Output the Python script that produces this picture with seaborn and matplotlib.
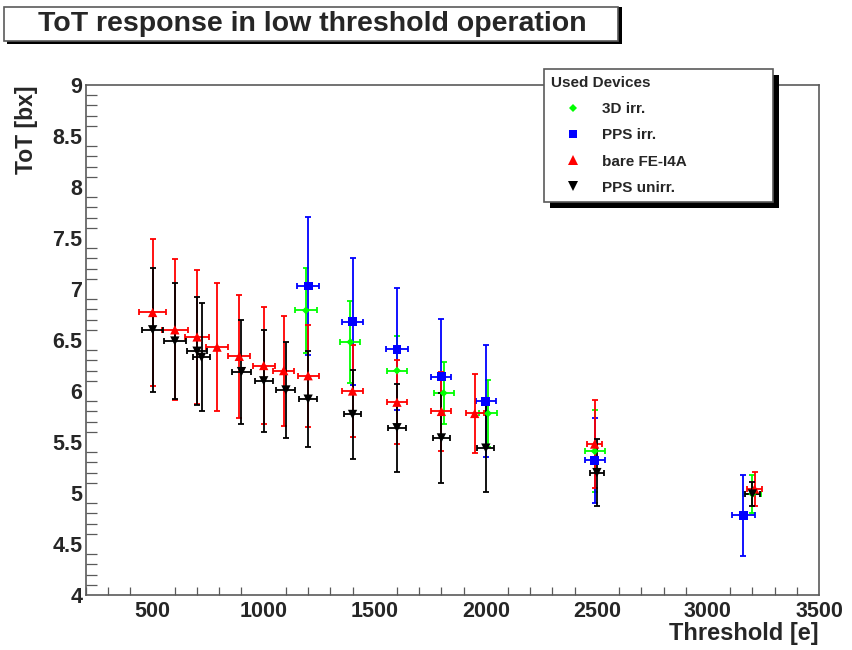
import matplotlib
matplotlib.use("Agg")

import matplotlib.pyplot as plt
import pandas as pd
import seaborn as sns
from matplotlib.patches import Rectangle
from matplotlib.ticker import FuncFormatter, MultipleLocator

# ── Data (ToT vs threshold, per device) ──────────────────────────────────────
DEVICES = ["3D irr.", "PPS irr.", "bare FE-I4A", "PPS unirr."]

thr_3d = [1190, 1390, 1600, 1810, 2010, 2490, 3200]
tot_3d = [6.79, 6.48, 6.20, 5.98, 5.78, 5.41, 4.99]
xerr_3d = [50, 45, 45, 45, 40, 45, 40]
yerr_3d = [0.42, 0.40, 0.34, 0.30, 0.33, 0.40, 0.19]

thr_pps = [1200, 1400, 1600, 1800, 2000, 2490, 3160]
tot_pps = [7.03, 6.68, 6.41, 6.14, 5.90, 5.32, 4.78]
xerr_pps = [50, 48, 50, 45, 45, 45, 50]
yerr_pps = [0.68, 0.62, 0.60, 0.57, 0.55, 0.42, 0.40]

thr_bare = [500, 600, 700, 790, 890, 1000, 1090, 1200, 1400, 1600, 1800, 1950, 2490, 3210]
tot_bare = [6.77, 6.60, 6.53, 6.43, 6.34, 6.25, 6.20, 6.15, 6.00, 5.89, 5.80, 5.78, 5.48, 5.04]
xerr_bare = [60, 58, 55, 50, 50, 49, 47, 47, 46, 45, 45, 41, 35, 32]
yerr_bare = [0.72, 0.69, 0.66, 0.63, 0.60, 0.57, 0.54, 0.50, 0.45, 0.41, 0.39, 0.39, 0.43, 0.17]

thr_unirr = [500, 600, 700, 720, 900, 1000, 1100, 1200, 1400, 1600, 1800, 2000, 2500, 3200]
tot_unirr = [6.60, 6.49, 6.39, 6.33, 6.19, 6.10, 6.01, 5.92, 5.77, 5.64, 5.54, 5.44, 5.20, 4.99]
xerr_unirr = [47, 49, 44, 38, 43, 41, 43, 39, 40, 40, 40, 38, 30, 35]
yerr_unirr = [0.61, 0.57, 0.53, 0.53, 0.51, 0.50, 0.47, 0.47, 0.44, 0.43, 0.44, 0.43, 0.33, 0.12]

# ROOT-like colours / markers
COLORS = {"3D irr.": "#00ff00", "PPS irr.": "#0000ff",
          "bare FE-I4A": "#ff0000", "PPS unirr.": "#000000"}
MARKERS = {"3D irr.": "D", "PPS irr.": "s", "bare FE-I4A": "^", "PPS unirr.": "v"}
SIZES = {"3D irr.": 16, "PPS irr.": 40, "bare FE-I4A": 45, "PPS unirr.": 45}

frames = []
for name, x, y, xe, ye in [
    ("3D irr.", thr_3d, tot_3d, xerr_3d, yerr_3d),
    ("PPS irr.", thr_pps, tot_pps, xerr_pps, yerr_pps),
    ("bare FE-I4A", thr_bare, tot_bare, xerr_bare, yerr_bare),
    ("PPS unirr.", thr_unirr, tot_unirr, xerr_unirr, yerr_unirr),
]:
    frames.append(pd.DataFrame({"device": name, "threshold": x, "tot": y,
                                "xerr": xe, "yerr": ye}))
df = pd.concat(frames, ignore_index=True)

# ── Style ─────────────────────────────────────────────────────────────────────
sns.set_theme(style="white")
plt.rcParams["font.family"] = ["Liberation Sans", "DejaVu Sans"]
plt.rcParams["font.weight"] = "bold"
FRAME = "#5a5a5a"

W, H = 853, 650
fig = plt.figure(figsize=(W / 100, H / 100), dpi=100)
ax = fig.add_axes([86 / W, 1 - 595 / H, (819 - 86) / W, (595 - 85) / H])

# ── Error bars, then markers ──────────────────────────────────────────────────
for name in DEVICES:
    sub = df[df["device"] == name]
    ax.errorbar(sub["threshold"], sub["tot"], xerr=sub["xerr"], yerr=sub["yerr"],
                fmt="none", ecolor=COLORS[name], elinewidth=1.3,
                capsize=2.2, capthick=1.3, zorder=2)

sns.scatterplot(data=df, x="threshold", y="tot", hue="device", style="device",
                size="device", hue_order=DEVICES, style_order=DEVICES,
                size_order=DEVICES, palette=COLORS, markers=MARKERS,
                sizes=SIZES, linewidth=0, ax=ax, zorder=3)

# ── Axes ──────────────────────────────────────────────────────────────────────
ax.set_xlim(200, 3500)
ax.set_ylim(4, 9)
ax.xaxis.set_major_locator(MultipleLocator(500))
ax.xaxis.set_minor_locator(MultipleLocator(100))
ax.yaxis.set_major_locator(MultipleLocator(0.5))
ax.yaxis.set_minor_locator(MultipleLocator(0.1))
ax.yaxis.set_major_formatter(FuncFormatter(lambda v, _: f"{v:g}"))
ax.xaxis.set_major_formatter(FuncFormatter(lambda v, _: f"{v:g}"))

for side in ["left", "right", "top", "bottom"]:
    ax.spines[side].set_color(FRAME)
    ax.spines[side].set_linewidth(1.2)

ax.tick_params(axis="y", which="major", direction="in", length=16.5, width=0.9,
               color=FRAME, labelsize=15.5, pad=2.5)
ax.tick_params(axis="y", which="minor", direction="in", length=8, width=0.9,
               color=FRAME, left=True)
ax.tick_params(axis="x", which="major", direction="in", length=11, width=0.9,
               color=FRAME, labelsize=15.5, pad=4)
ax.tick_params(axis="x", which="minor", direction="in", length=5.5, width=0.9,
               color=FRAME, bottom=True)
for lbl in ax.get_xticklabels() + ax.get_yticklabels():
    lbl.set_fontweight("bold")

ax.set_xlabel("Threshold [e]", fontsize=17, fontweight="bold", loc="right")
ax.set_ylabel("ToT [bx]", fontsize=16.5, fontweight="bold", loc="top")
ax.xaxis.set_label_coords(1.0, -0.052)
ax.yaxis.set_label_coords(-0.066, 1.0)

# ── Legend with ROOT-style drop shadow ────────────────────────────────────────
sns.move_legend(ax, loc="upper left",
                bbox_to_anchor=(544 / W, 1 - 199 / H, 229 / W, 130 / H),
                bbox_transform=fig.transFigure, mode="expand",
                title="Used Devices", alignment="left",
                prop={"weight": "bold", "size": 11},
                title_fontproperties={"weight": "bold", "size": 11},
                frameon=True, fancybox=False, framealpha=1, edgecolor=FRAME,
                borderpad=0.45, handlelength=2.86, handletextpad=0.46,
                labelspacing=0.8, borderaxespad=0)
leg = ax.get_legend()
leg.get_frame().set_linewidth(1.2)
leg.set_zorder(6)

fig.canvas.draw()
bb = leg.get_window_extent()
ax.add_artist(Rectangle(((bb.x0 + 6) / W, (bb.y0 - 6) / H), bb.width / W,
                        bb.height / H, transform=fig.transFigure,
                        facecolor="black", edgecolor="none", clip_on=False,
                        zorder=5.5))

# ── Title box ─────────────────────────────────────────────────────────────────
fig.patches.append(Rectangle((7 / W, 1 - 44 / H), 615 / W, 37 / H,
                             transform=fig.transFigure, facecolor="black",
                             edgecolor="none", zorder=1))
fig.patches.append(Rectangle((4 / W, 1 - 41 / H), 614 / W, 34 / H,
                             transform=fig.transFigure, facecolor="white",
                             edgecolor=FRAME, linewidth=1.2, zorder=2))
fig.text(312 / W, 1 - 31 / H, "ToT response in low threshold operation",
         ha="center", va="baseline", fontsize=20.5, fontweight="bold", zorder=3)

fig.savefig("out.png", dpi=100)
